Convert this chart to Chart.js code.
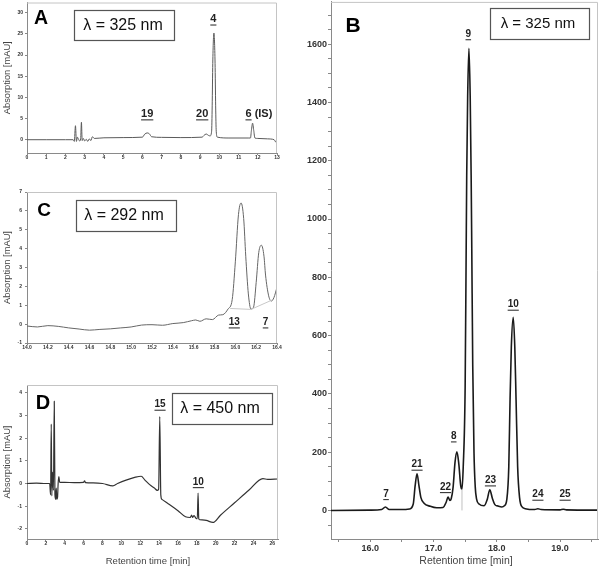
<!DOCTYPE html>
<html>
<head>
<meta charset="utf-8">
<script src="https://cdn.jsdelivr.net/npm/chart.js@4.4.1/dist/chart.umd.min.js"></script>
<style>
    body { margin: 0; background: #fff; }
    #wrap { position: relative; width: 600px; height: 568px; overflow: hidden; }
    canvas { position: absolute; }
</style>
</head>
<body>
<div id="wrap">
    <canvas id="chartA" width="290" height="166" style="left:0px;top:0px"></canvas>
    <canvas id="chartC" width="290" height="186" style="left:0px;top:170px"></canvas>
    <canvas id="chartD" width="290" height="198" style="left:0px;top:370px"></canvas>
    <canvas id="chartB" width="310" height="568" style="left:290px;top:0px"></canvas>
</div>
<script>
const FONT = '"Liberation Sans", Arial, sans-serif';

// panel A, 325 nm
const aTime = [0, 1, 2, 2.4, 2.46, 2.52, 2.57, 2.62, 2.68, 2.74, 2.79, 2.83, 2.87, 2.93, 3.0, 3.08, 3.16, 3.24, 3.32, 3.4,
    3.5, 4.0, 5.0, 6.0, 6.12, 6.25, 6.36, 6.48, 7.0, 8.0, 9.1, 9.2, 9.32, 9.44, 9.52, 9.6, 9.63, 9.66, 9.72, 9.78,
    9.81, 9.84, 9.9, 10.5, 11.5, 11.62, 11.67, 11.73, 11.79, 11.85, 12.0, 12.5, 12.85, 12.95, 13.0];
const aValue = [0, 0, 0, 0, -0.4, 3.3, -0.4, 0.6, 0.1, -0.3, 0.2, 4.1, -0.2, 0.3, -0.3, 0.1, -0.4, 0.2, -0.2, 0.7,
    0.3, 0.45, 0.5, 0.6, 1.3, 1.6, 1.4, 0.7, 0.55, 0.5, 0.6, 1.0, 1.35, 1.0, 0.9, 2, 8, 18, 25.2, 18,
    8, 2, 0.6, 0.4, 0.4, 0.4, 2.2, 3.9, 2.2, 0.4, 0.3, 0.2, 0, -0.6, -0.3];
const aPeakNames = ['19', '20', '4', '6'];
const aPeakNotes = ['', '', '', ' (IS)'];
const aPeakTimes = [6.25, 9.11, 9.69, 12.06];
const aPeakLevels = [6.1, 6.1, 28.5, 6.1];

// panel C, 292 nm
const cTime = [14.0, 14.1, 14.2, 14.3, 14.4, 14.5, 14.6, 14.7, 14.8, 14.9, 15.0, 15.1, 15.2, 15.3, 15.4, 15.5, 15.58, 15.62,
    15.66, 15.72, 15.78, 15.84, 15.88, 15.93, 15.97, 16.0, 16.03, 16.055, 16.08, 16.1, 16.125, 16.15, 16.175, 16.2,
    16.225, 16.25, 16.275, 16.29, 16.32, 16.345, 16.37, 16.4];
const cValue = [-0.1, -0.15, -0.08, -0.12, -0.2, -0.26, -0.32, -0.28, -0.25, -0.2, -0.15, -0.05, -0.03, -0.06, 0.03, 0.08, 0.18, 0.22,
    0.15, 0.28, 0.24, 0.48, 0.5, 0.8, 1.3, 3.3, 5.8, 6.42, 5.6, 3.6, 1.6, 0.8, 0.9, 2.2,
    3.8, 4.18, 3.6, 2.6, 1.5, 1.22, 1.4, 1.95];
const cBaseTime = [15.95, 16.15, 16.35];
const cBaseValue = [0.83, 0.78, 1.27];
const cPeakNames = ['13', '7'];
const cPeakTimes = [15.99, 16.29];
const cPeakLevels = [0.09, 0.09];

// panel D, 450 nm
const dTime = [0, 1, 2, 2.4, 2.5, 2.57, 2.63, 2.7, 2.8, 2.89, 2.96, 3.04, 3.1, 3.16, 3.24, 3.3, 3.38, 3.46, 4, 5,
    6, 6.1, 6.2, 7, 8, 9.1, 9.6, 10.5, 11.5, 12.1, 12.5, 13.0, 13.5, 13.8, 13.95, 14.07, 14.18, 14.3, 15, 16,
    16.8, 17.3, 17.45, 17.55, 17.7, 17.95, 18.05, 18.13, 18.2, 18.3, 19, 19.7, 20.5, 22, 23.5, 25.0, 25.5, 26.6];
const dValue = [0, 0.02, 0, 0, -0.5, 2.62, -0.55, 0.5, -0.3, 3.63, -0.5, -0.7, -0.2, -0.7, -0.6, 0, 0.3, 0.05, 0.05, 0.04,
    0.05, 0.12, 0.04, 0.03, 0.0, -0.1, 0.0, 0.15, 0.28, 0.32, 0.15, -0.05, -0.2, -0.3, -0.25, 2.95, -0.5, -0.7, -0.9, -1.2,
    -1.47, -1.5, -1.4, -1.5, -1.42, -1.55, -1.55, -0.42, -1.55, -1.6, -1.63, -1.72, -1.4, -0.85, -0.3, 0.22, 0.18, 0.2];
const dPeakNames = ['15', '10'];
const dPeakTimes = [14.1, 18.16];
const dPeakLevels = [3.48, 0.06];

// panel B, 325 nm
const bTime = [15.38, 16.0, 16.18, 16.24, 16.3, 16.5, 16.62, 16.68, 16.71, 16.74, 16.77, 16.8, 16.85, 16.95, 17.05, 17.15,
    17.2, 17.23, 17.26, 17.28, 17.31, 17.34, 17.37, 17.4, 17.43, 17.45, 17.47, 17.5, 17.515, 17.525, 17.54, 17.56,
    17.58, 17.595, 17.605, 17.62, 17.64, 17.66, 17.68, 17.72, 17.8, 17.85, 17.89, 17.93, 17.97, 18.02, 18.08, 18.12,
    18.16, 18.19, 18.21, 18.23, 18.26, 18.285, 18.305, 18.33, 18.36, 18.4, 18.45, 18.6, 18.65, 18.7, 19.0, 19.05, 19.1, 19.6];
const bValue = [0, 1, 3, 12, 3, 3, 5, 22, 85, 126, 85, 45, 25, 14, 9, 10,
    28, 46, 34, 40, 80, 165, 201, 160, 85, 73, 150, 420, 850, 1150, 1420, 1586,
    1420, 1150, 900, 500, 200, 80, 40, 22, 16, 38, 71, 42, 20, 15, 12, 16,
    40, 150, 380, 560, 663, 560, 380, 150, 45, 12, 6, 3, 6, 3, 2, 4, 2, 1];
const bDropTime = [17.45, 17.45];
const bDropValue = [0, 73];
const bPeakNames = ['7', '21', '22', '8', '9', '23', '10', '24', '25'];
const bPeakTimes = [16.25, 16.74, 17.19, 17.32, 17.55, 17.90, 18.26, 18.65, 19.08];
const bPeakLevels = [56, 157, 80, 254, 1634, 103, 706, 54, 54];

function toPoints(xs, ys) {
    return xs.map((x, i) => ({ x: x, y: ys[i] }));
}

function toLabels(names, times, levels, notes) {
    return names.map((n, i) => ({ text: n, note: notes ? notes[i] : '', t: times[i], v: levels[i] }));
}

function onStep(v, step) {
    return Math.abs(v / step - Math.round(v / step)) < 1e-6;
}

// ticks only on whole steps, never on the axis ends
function stepTicks(min, max, step) {
    const out = [];
    for (let k = Math.ceil(min / step - 1e-9); k * step <= max + 1e-9; k++) {
        out.push({ value: +(k * step).toFixed(6) });
    }
    return out;
}

// frame, panel letter, wavelength box, peak labels, axis titles
const deco = {
    id: 'deco',
    afterDraw(chart, args, o) {
        const ctx = chart.ctx;
        const a = chart.chartArea;
        ctx.save();
        ctx.strokeStyle = '#c4c4c4';
        ctx.lineWidth = 1;
        ctx.beginPath();
        ctx.moveTo(a.left, a.top + 0.5);
        ctx.lineTo(a.right - 0.5, a.top + 0.5);
        ctx.lineTo(a.right - 0.5, a.bottom);
        ctx.stroke();

        ctx.fillStyle = '#000';
        ctx.textAlign = 'center';
        ctx.textBaseline = 'middle';
        ctx.font = 'bold ' + o.letterSize + 'px ' + FONT;
        ctx.fillText(o.letter, o.letterX, o.letterY);

        const b = o.box;
        ctx.fillStyle = '#fff';
        ctx.fillRect(b.x, b.y, b.w, b.h);
        ctx.strokeStyle = '#555';
        ctx.lineWidth = 1.2;
        ctx.strokeRect(b.x + 0.5, b.y + 0.5, b.w, b.h);
        ctx.fillStyle = '#111';
        ctx.font = b.size + 'px ' + FONT;
        ctx.fillText(b.text, b.tx, b.ty);

        ctx.fillStyle = '#222';
        ctx.font = 'bold ' + o.labelSize + 'px ' + FONT;
        ctx.textAlign = 'left';
        o.labels.forEach(lab => {
            const x = chart.scales.x.getPixelForValue(lab.t);
            const y = chart.scales.y.getPixelForValue(lab.v);
            const w1 = ctx.measureText(lab.text).width;
            const w2 = lab.note ? ctx.measureText(lab.note).width : 0;
            const x0 = x - (w1 + w2) / 2;
            ctx.fillText(lab.text, x0, y);
            if (lab.note) ctx.fillText(lab.note, x0 + w1, y);
            ctx.fillRect(x0, y + o.labelSize * 0.5, w1, 1);
        });

        ctx.fillStyle = '#444';
        ctx.textAlign = 'center';
        if (o.yTitle) {
            ctx.save();
            ctx.translate(o.yTitleX, (a.top + a.bottom) / 2);
            ctx.rotate(-Math.PI / 2);
            ctx.font = '9.3px ' + FONT;
            ctx.fillText(o.yTitle, 0, 0);
            ctx.restore();
        }
        if (o.xTitle) {
            ctx.font = o.xTitleSize + 'px ' + FONT;
            ctx.fillText(o.xTitle, o.xTitleX, o.xTitleY);
        }
        ctx.restore();
    }
};

function makePanel(id, p) {
    const datasets = p.lines.map(l => ({
        data: l.data,
        borderColor: l.color,
        borderWidth: l.width,
        pointRadius: 0,
        fill: false,
        cubicInterpolationMode: l.straight ? 'default' : 'monotone',
        tension: 0
    }));
    return new Chart(document.getElementById(id), {
        type: 'line',
        data: { datasets: datasets },
        plugins: [deco],
        options: {
            responsive: false,
            animation: false,
            layout: { padding: p.padding },
            plugins: { legend: { display: false }, tooltip: { enabled: false }, deco: p.deco },
            scales: {
                x: {
                    type: 'linear', min: p.xMin, max: p.xMax,
                    afterFit: s => { s.height = p.xHeight; },
                    afterBuildTicks: s => { s.ticks = stepTicks(s.min, s.max, p.xStep); },
                    grid: { drawOnChartArea: false, tickLength: p.tickLen, color: '#888' },
                    border: { color: '#8a8a8a' },
                    ticks: {
                        stepSize: p.xStep, padding: p.xPad, maxRotation: 0, autoSkip: false,
                        font: { family: FONT, size: p.tickSize, weight: 'bold' },
                        color: '#333', callback: p.xFmt
                    }
                },
                y: {
                    type: 'linear', min: p.yMin, max: p.yMax,
                    afterFit: s => { s.width = p.yWidth; },
                    afterBuildTicks: s => { s.ticks = stepTicks(s.min, s.max, p.yStep); },
                    grid: { drawOnChartArea: false, tickLength: p.tickLen, color: '#888' },
                    border: { color: '#8a8a8a' },
                    ticks: {
                        stepSize: p.yStep, padding: p.yPad, autoSkip: false,
                        font: { family: FONT, size: p.tickSize, weight: 'bold', lineHeight: 0.2 },
                        color: '#333', callback: p.yFmt
                    }
                }
            }
        }
    });
}

makePanel('chartA', {
    lines: [{ data: toPoints(aTime, aValue), color: '#5a5a5a', width: 1 }],
    padding: { left: 0, right: 13, top: 0, bottom: 0 },
    xMin: 0, xMax: 13, xStep: 1, yMin: -3.14, yMax: 32.4, yStep: 5,
    xHeight: 13, yWidth: 27, tickLen: 2, tickSize: 5, xPad: 0, yPad: 2,
    xFmt: v => String(v), yFmt: v => String(v),
    deco: {
        letter: 'A', letterSize: 19.5, letterX: 41, letterY: 19,
        box: { x: 74, y: 10, w: 100, h: 30, text: 'λ = 325 nm', size: 16, tx: 123, ty: 25.5 },
        labelSize: 11, labels: toLabels(aPeakNames, aPeakTimes, aPeakLevels, aPeakNotes),
        yTitle: 'Absorption [mAU]', yTitleX: 7
    }
});

makePanel('chartC', {
    lines: [
        { data: toPoints(cBaseTime, cBaseValue), color: '#c8c8c8', width: 1, straight: true },
        { data: toPoints(cTime, cValue), color: '#666', width: 1 }
    ],
    padding: { left: 0, right: 13, top: 22, bottom: 0 },
    xMin: 14.0, xMax: 16.4, xStep: 0.2, yMin: -1, yMax: 7, yStep: 1,
    xHeight: 13, yWidth: 27, tickLen: 2, tickSize: 5, xPad: 0, yPad: 3,
    xFmt: v => v.toFixed(1), yFmt: v => String(v),
    deco: {
        letter: 'C', letterSize: 19, letterX: 44, letterY: 40.5,
        box: { x: 76, y: 30, w: 100, h: 31, text: 'λ = 292 nm', size: 16, tx: 124, ty: 45.5 },
        labelSize: 10, labels: toLabels(cPeakNames, cPeakTimes, cPeakLevels),
        yTitle: 'Absorption [mAU]', yTitleX: 7
    }
});

makePanel('chartD', {
    lines: [{ data: toPoints(dTime, dValue), color: '#333', width: 1.2 }],
    padding: { left: 0, right: 12, top: 15, bottom: 0 },
    xMin: 0, xMax: 26.6, xStep: 2, yMin: -2.45, yMax: 4.35, yStep: 1,
    xHeight: 29, yWidth: 27, tickLen: 2, tickSize: 5, xPad: 0, yPad: 3,
    xFmt: v => String(v), yFmt: v => String(v),
    deco: {
        letter: 'D', letterSize: 20, letterX: 43, letterY: 33,
        box: { x: 172, y: 23, w: 100, h: 31, text: 'λ = 450 nm', size: 16, tx: 220, ty: 38.5 },
        labelSize: 10, labels: toLabels(dPeakNames, dPeakTimes, dPeakLevels),
        yTitle: 'Absorption [mAU]', yTitleX: 7,
        xTitle: 'Retention time [min]', xTitleSize: 9.5, xTitleX: 148, xTitleY: 191
    }
});

makePanel('chartB', {
    lines: [
        { data: toPoints(bDropTime, bDropValue), color: '#c0c0c0', width: 1, straight: true },
        { data: toPoints(bTime, bValue), color: '#1a1a1a', width: 1.6 }
    ],
    padding: { left: 0, right: 2, top: 0, bottom: 0 },
    xMin: 15.38, xMax: 19.6, xStep: 0.5, yMin: -98, yMax: 1745, yStep: 50,
    xHeight: 29, yWidth: 41, tickLen: 3, tickSize: 9, xPad: 1, yPad: 1,
    xFmt: v => (onStep(v, 1) ? v.toFixed(1) : ''),
    yFmt: v => (onStep(v, 200) && v >= 0 ? String(v) : ''),
    deco: {
        letter: 'B', letterSize: 21, letterX: 63, letterY: 26,
        box: { x: 200, y: 8, w: 99, h: 31, text: 'λ = 325 nm', size: 15, tx: 248, ty: 24 },
        labelSize: 10, labels: toLabels(bPeakNames, bPeakTimes, bPeakLevels),
        xTitle: 'Retention time [min]', xTitleSize: 10.5, xTitleX: 176, xTitleY: 561
    }
});
</script>
</body>
</html>
